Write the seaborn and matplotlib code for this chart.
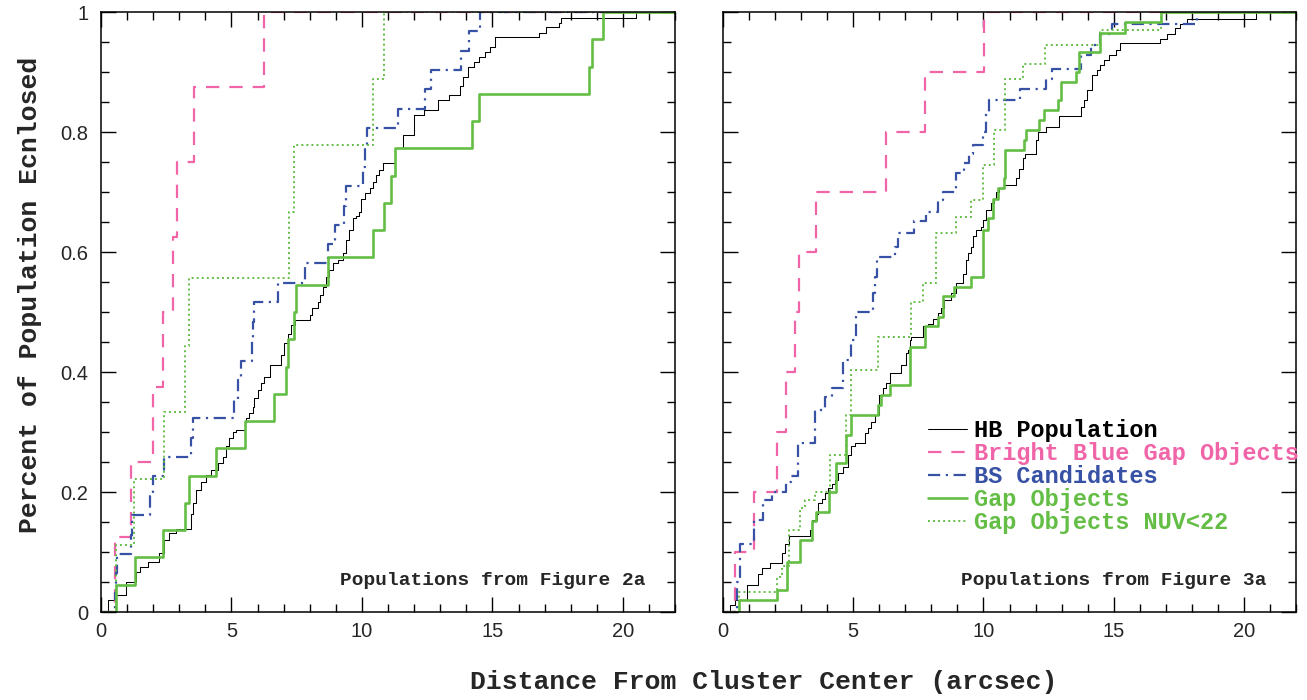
import matplotlib
matplotlib.use("Agg")
import matplotlib.pyplot as plt
import seaborn as sns
import pandas as pd
from matplotlib.ticker import MultipleLocator

# radial distance (arcsec) where each cumulative curve steps up, and the
# fraction of the population enclosed after that step

# ---- Populations from Figure 2a (left panel) ----
hb_2a_r = [0.26, 0.52, 0.96, 1.35, 1.48, 1.8, 2.24, 2.43, 2.62, 2.88, 3.46, 3.52, 3.65, 3.84,
           4.03, 4.22, 4.48, 4.67, 4.8, 4.92, 5.05, 5.18, 5.5, 5.56, 5.66, 5.82, 5.88, 6.01,
           6.14, 6.26, 6.46, 6.9, 7.03, 7.16, 7.29, 7.45, 7.99, 8.1, 8.31, 8.4, 8.5, 8.63,
           8.75, 8.88, 9.07, 9.26, 9.39, 9.5, 9.65, 9.78, 9.9, 9.97, 10.1, 10.29, 10.41, 10.54,
           10.67, 10.8, 11.25, 11.56, 12.01, 12.39, 12.9, 13.35, 13.74, 13.86, 14.05, 14.31,
           14.5, 14.7, 14.89, 15.08, 16.8, 17.06, 17.57, 17.63, 20.5]
hb_2a_f = [0.02, 0.028, 0.05, 0.067, 0.075, 0.084, 0.098, 0.12, 0.131, 0.139, 0.164, 0.181,
           0.203, 0.217, 0.228, 0.237, 0.248, 0.259, 0.276, 0.29, 0.3, 0.303, 0.317, 0.323,
           0.332, 0.342, 0.357, 0.37, 0.381, 0.392, 0.412, 0.428, 0.448, 0.464, 0.478, 0.487,
           0.495, 0.506, 0.517, 0.528, 0.542, 0.559, 0.57, 0.581, 0.587, 0.598, 0.62, 0.637,
           0.656, 0.66, 0.667, 0.689, 0.698, 0.706, 0.717, 0.728, 0.737, 0.748, 0.773, 0.795,
           0.828, 0.837, 0.853, 0.862, 0.877, 0.892, 0.909, 0.917, 0.926, 0.934, 0.942, 0.958,
           0.966, 0.975, 0.982, 0.991, 1.0]

bbg_2a_r = [0.52, 1.16, 1.98, 2.39, 2.75, 2.9, 3.58, 6.26]
bbg_2a_f = [0.125, 0.25, 0.375, 0.5, 0.625, 0.75, 0.875, 1.0]

bs_2a_r = [0.55, 0.58, 0.6, 1.15, 1.17, 1.86, 1.98, 2.43, 3.45, 3.52, 5.08, 5.25, 5.37, 5.78,
           5.82, 5.85, 6.78, 7.8, 8.69, 8.95, 9.3, 9.39, 10.03, 10.1, 10.2, 11.37, 12.4, 12.65,
           13.8, 14.12, 14.53]
bs_2a_f = [0.032, 0.065, 0.097, 0.129, 0.161, 0.194, 0.226, 0.258, 0.29, 0.323, 0.355, 0.387,
           0.419, 0.452, 0.484, 0.516, 0.548, 0.581, 0.613, 0.645, 0.677, 0.71, 0.742, 0.774,
           0.806, 0.839, 0.871, 0.903, 0.935, 0.968, 1.0]

gap_2a_r = [0.58, 1.32, 2.39, 3.2, 3.37, 4.39, 5.5, 6.62, 7.07, 7.18, 7.38, 7.48, 8.69, 10.41,
            10.86, 11.12, 11.27, 14.22, 14.5, 18.69, 18.8, 19.25]
gap_2a_f = [0.045, 0.091, 0.136, 0.182, 0.227, 0.273, 0.318, 0.364, 0.409, 0.455, 0.5, 0.545,
            0.591, 0.636, 0.682, 0.727, 0.773, 0.818, 0.864, 0.909, 0.955, 1.0]

nuv_2a_r = [0.56, 1.28, 2.43, 3.22, 3.39, 7.2, 7.41, 10.41, 10.86]
nuv_2a_f = [0.111, 0.222, 0.333, 0.444, 0.556, 0.667, 0.778, 0.889, 1.0]

# ---- Populations from Figure 3a (right panel) ----
hb_3a_r = [0.28, 0.47, 0.92, 1.36, 1.49, 1.81, 2.26, 2.38, 2.54, 3.34, 3.4, 3.59, 3.66, 3.79,
           3.91, 4.04, 4.17, 4.3, 4.42, 4.61, 4.8, 4.93, 5.06, 5.44, 5.57, 5.7, 5.82, 5.98,
           6.14, 6.27, 6.4, 6.84, 7.04, 7.1, 7.16, 7.23, 7.67, 7.86, 8.05, 8.25, 8.38, 8.5,
           8.76, 8.95, 9.2, 9.33, 9.39, 9.52, 9.58, 9.71, 9.9, 9.97, 10.1, 10.29, 10.41, 10.48,
           10.6, 10.8, 11.24, 11.37, 11.5, 11.6, 12.01, 12.11, 12.39, 12.9, 13.73, 13.85, 13.98,
           14.17, 14.36, 14.49, 14.62, 14.81, 15.07, 15.26, 16.79, 17.04, 17.36, 17.55, 17.81,
           20.48]
hb_3a_f = [0.012, 0.02, 0.045, 0.064, 0.073, 0.081, 0.098, 0.114, 0.126, 0.137, 0.153, 0.164,
           0.181, 0.189, 0.198, 0.206, 0.214, 0.22, 0.231, 0.242, 0.262, 0.276, 0.281, 0.298,
           0.306, 0.317, 0.328, 0.362, 0.373, 0.381, 0.398, 0.412, 0.431, 0.437, 0.453, 0.459,
           0.476, 0.48, 0.489, 0.498, 0.506, 0.52, 0.531, 0.548, 0.564, 0.587, 0.598, 0.609,
           0.626, 0.637, 0.642, 0.653, 0.67, 0.681, 0.689, 0.7, 0.706, 0.712, 0.723, 0.739,
           0.756, 0.764, 0.787, 0.8, 0.809, 0.826, 0.842, 0.853, 0.87, 0.895, 0.903, 0.912,
           0.92, 0.928, 0.937, 0.948, 0.956, 0.964, 0.973, 0.981, 0.989, 1.0]

bbg_3a_r = [0.47, 1.17, 2.08, 2.42, 2.76, 2.93, 3.57, 6.25, 7.74, 10.03]
bbg_3a_f = [0.1, 0.2, 0.3, 0.4, 0.5, 0.6, 0.7, 0.8, 0.9, 1.0]

bs_3a_r = [0.53, 0.66, 1.17, 1.55, 1.88, 2.42, 2.6, 2.89, 3.53, 3.91, 4.17, 4.61, 4.93, 5.12,
           5.76, 5.85, 5.92, 6.59, 6.72, 7.35, 7.8, 8.25, 8.44, 8.95, 9.27, 9.46, 9.58, 9.97,
           10.1, 10.22, 11.4, 12.39, 12.64, 13.76, 14.12, 14.49, 14.94, 18.2]
bs_3a_f = [0.05, 0.114, 0.153, 0.187, 0.2, 0.217, 0.226, 0.281, 0.337, 0.359, 0.373, 0.42,
           0.453, 0.5, 0.531, 0.559, 0.592, 0.609, 0.631, 0.651, 0.667, 0.687, 0.7, 0.731,
           0.748, 0.764, 0.778, 0.8, 0.831, 0.853, 0.871, 0.889, 0.906, 0.928, 0.945, 0.964,
           0.981, 1.0]

gap_3a_r = [0.6, 2.06, 2.45, 2.96, 3.4, 3.57, 4.08, 4.33, 4.72, 4.93, 5.95, 6.08, 6.4, 7.16,
            7.74, 8.25, 8.44, 8.88, 9.52, 9.97, 10.16, 10.35, 10.54, 10.8, 10.83, 11.56, 11.63,
            12.13, 12.33, 12.87, 12.96, 13.56, 13.66, 14.49, 15.42, 16.83]
gap_3a_f = [0.02, 0.037, 0.084, 0.12, 0.151, 0.167, 0.2, 0.248, 0.295, 0.328, 0.345, 0.362,
            0.378, 0.442, 0.476, 0.492, 0.526, 0.542, 0.559, 0.637, 0.656, 0.689, 0.706, 0.723,
            0.77, 0.787, 0.803, 0.82, 0.837, 0.853, 0.884, 0.9, 0.934, 0.966, 0.984, 1.0]

nuv_3a_r = [0.6, 2.06, 2.26, 2.54, 2.96, 3.15, 3.53, 4.1, 4.74, 4.93, 5.95, 7.23, 7.67, 8.18,
            8.95, 9.52, 9.97, 10.41, 10.83, 11.5, 12.36, 14.49, 16.83]
nuv_3a_f = [0.034, 0.059, 0.076, 0.137, 0.173, 0.187, 0.2, 0.262, 0.328, 0.403, 0.459, 0.517,
            0.548, 0.631, 0.659, 0.687, 0.745, 0.803, 0.889, 0.914, 0.945, 0.97, 1.0]

labels = ["HB Population", "Bright Blue Gap Objects", "BS Candidates",
          "Gap Objects", "Gap Objects NUV<22"]
y_ticks = [0, 0.2, 0.4, 0.6, 0.8, 1]
y_tick_labels = ["0", "0.2", "0.4", "0.6", "0.8", "1"]
x_ticks = [0, 5, 10, 15, 20]

pops_2a = [(hb_2a_r, hb_2a_f), (bbg_2a_r, bbg_2a_f), (bs_2a_r, bs_2a_f),
           (gap_2a_r, gap_2a_f), (nuv_2a_r, nuv_2a_f)]
pops_3a = [(hb_3a_r, hb_3a_f), (bbg_3a_r, bbg_3a_f), (bs_3a_r, bs_3a_f),
           (gap_3a_r, gap_3a_f), (nuv_3a_r, nuv_3a_f)]

X_MAX = 22

styles = [
    dict(color="black", linewidth=0.75, linestyle="-"),
    dict(color="#f064a8", linewidth=1.6, linestyle=(0, (6, 4.5))),
    dict(color="#3751a5", linewidth=1.6, linestyle=(0, (5.5, 2.5, 1, 2.5))),
    dict(color="#64be46", linewidth=1.9, linestyle="-"),
    dict(color="#64be46", linewidth=1.4, linestyle=(0, (1, 1.6))),
]

sns.set_style("ticks")
plt.rcParams["font.family"] = ["Liberation Sans", "DejaVu Sans"]

mono_bold = dict(family="Liberation Mono", weight="bold")

fig = plt.figure(figsize=(13.07, 7.0), dpi=100)
ax_l = fig.add_axes([0.0773, 0.1257, 0.4392, 0.857])
ax_r = fig.add_axes([0.5532, 0.1257, 0.4384, 0.857])

panels = [(ax_l, pops_2a, "Populations from Figure 2a"),
          (ax_r, pops_3a, "Populations from Figure 3a")]

for ax, pops, note in panels:
    for (r, f), lab, st in zip(pops, labels, styles):
        df = pd.DataFrame({"r": [0.0] + r + [X_MAX], "f": [0.0] + f + [1.0]})
        sns.lineplot(data=df, x="r", y="f", drawstyle="steps-post", estimator=None,
                     sort=False, label=lab, ax=ax, **st)

    ax.set_xlim(0, X_MAX)
    ax.set_ylim(0, 1)
    ax.set_xticks(x_ticks)
    ax.set_xticklabels([str(t) for t in x_ticks], fontsize=14.5)
    ax.set_yticks(y_ticks)
    ax.xaxis.set_minor_locator(MultipleLocator(1))
    ax.yaxis.set_minor_locator(MultipleLocator(0.05))
    ax.tick_params(which="both", direction="in", top=True, right=True, width=1, color="black")
    ax.tick_params(which="major", length=11)
    ax.tick_params(which="minor", length=5.5)
    ax.tick_params(axis="x", pad=7)
    ax.tick_params(axis="y", pad=9)
    for sp in ax.spines.values():
        sp.set_linewidth(1.1)
        sp.set_color("black")
    ax.set_xlabel("")
    ax.set_ylabel("")
    ax.text(20.85, 0.052, note, ha="right", va="center", fontsize=14, **mono_bold)

ax_l.set_yticklabels(y_tick_labels, fontsize=14.5)
ax_r.set_yticklabels([])
ax_l.get_legend().remove()

ax_r.legend(loc="upper left", bbox_to_anchor=(0.357, 0.322), frameon=False,
            prop=dict(family="Liberation Mono", weight="bold", size=17),
            handlelength=1.65, handletextpad=0.3, labelspacing=0.0,
            borderpad=0, borderaxespad=0, labelcolor="linecolor")

fig.text(0.584, 0.026, "Distance From Cluster Center (arcsec)", ha="center", va="center",
         fontsize=19, **mono_bold)
fig.text(0.023, 0.579, "Percent of Population Ecnlosed", ha="center", va="center",
         rotation=90, fontsize=19, **mono_bold)

fig.savefig("out.png", dpi=100)
